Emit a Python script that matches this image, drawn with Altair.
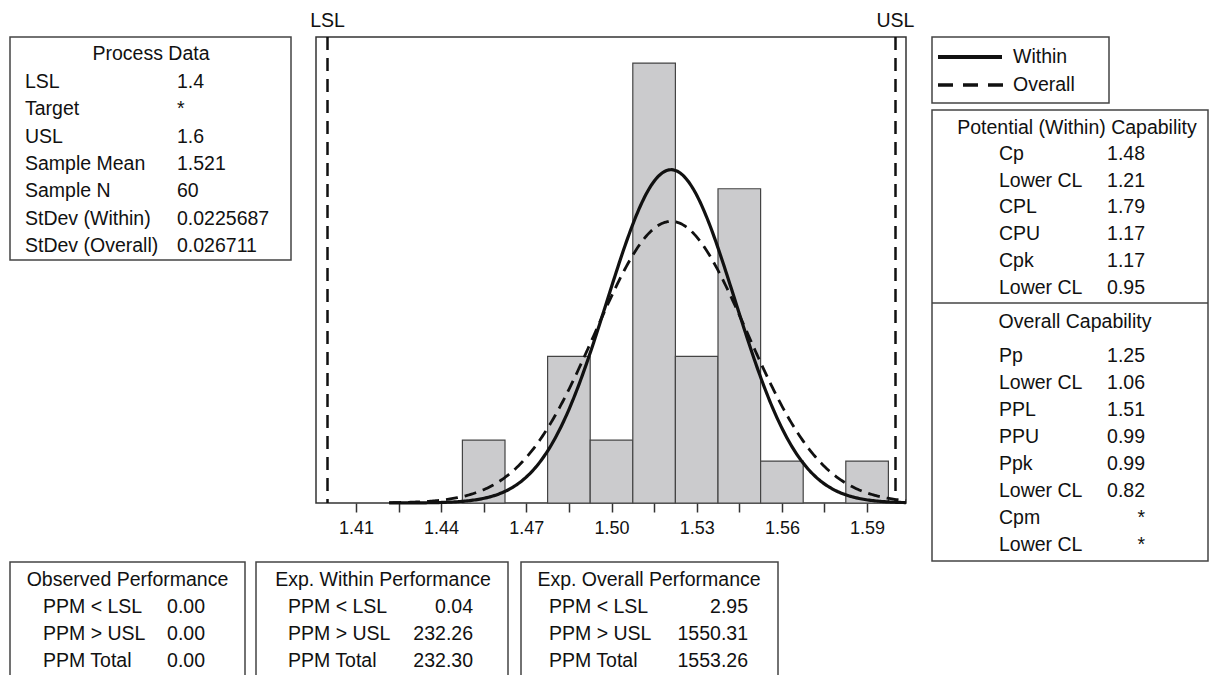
import altair as alt
import pandas as pd

# ---------------------------------------------------------------------------
# Data
# ---------------------------------------------------------------------------
# Histogram of the 60 measurements, bin width 0.015
bin_centers = [1.455, 1.485, 1.500, 1.515, 1.530, 1.545, 1.560, 1.590]
bin_counts = [3, 7, 3, 21, 7, 15, 2, 2]
bin_width = 0.015

# Process statistics
lsl, usl = 1.4, 1.6
sample_mean = 1.521
sample_n = 60
sd_within = 0.0225687
sd_overall = 0.026711

# x-axis ticks (labels on every second tick)
tick_values = [1.41, 1.425, 1.44, 1.455, 1.47, 1.485, 1.50,
               1.515, 1.53, 1.545, 1.56, 1.575, 1.59]

# Summary tables
process_labels = ["LSL", "Target", "USL", "Sample Mean", "Sample N",
                  "StDev (Within)", "StDev (Overall)"]
process_values = ["1.4", "*", "1.6", "1.521", "60", "0.0225687", "0.026711"]

within_cap_labels = ["Cp", "Lower CL", "CPL", "CPU", "Cpk", "Lower CL"]
within_cap_values = ["1.48", "1.21", "1.79", "1.17", "1.17", "0.95"]

overall_cap_labels = ["Pp", "Lower CL", "PPL", "PPU", "Ppk", "Lower CL",
                      "Cpm", "Lower CL"]
overall_cap_values = ["1.25", "1.06", "1.51", "0.99", "0.99", "0.82", "*", "*"]

ppm_labels = ["PPM < LSL", "PPM > USL", "PPM Total"]
observed_ppm = ["0.00", "0.00", "0.00"]
exp_within_ppm = ["0.04", "232.26", "232.30"]
exp_overall_ppm = ["2.95", "1550.31", "1553.26"]

# ---------------------------------------------------------------------------
# Layout (page pixels)
# ---------------------------------------------------------------------------
PAGE_W, PAGE_H = 1210, 675
PLOT_L, PLOT_T, PLOT_R, PLOT_B = 316, 37, 906, 503
PLOT_W, PLOT_H = PLOT_R - PLOT_L, PLOT_B - PLOT_T

PX_PER_UNIT = 2840.0          # horizontal pixels per measurement unit
LSL_PX = 327.5
x_lo = lsl - (LSL_PX - PLOT_L) / PX_PER_UNIT
x_hi = lsl + (PLOT_R - LSL_PX) / PX_PER_UNIT
PX_PER_COUNT = 20.95
y_hi = PLOT_H / PX_PER_COUNT

FONT = "Liberation Sans"
FS = 19.5
INK = "#111111"
EDGE = "#444444"

xs = alt.Scale(domain=[x_lo, x_hi], nice=False, zero=False)
ys = alt.Scale(domain=[0, y_hi], nice=False, zero=True)

# ---------------------------------------------------------------------------
# Table boxes and texts, positioned in page pixels (relative to plot origin)
# ---------------------------------------------------------------------------
texts, boxes = [], []


def add_text(x, y, s, align):
    texts.append(dict(x=x - PLOT_L, y=y - PLOT_T, text=s, align=align))


def add_box(x1, x2, y1, y2):
    boxes.append(dict(x=x1 - PLOT_L, x2=x2 - PLOT_L, y=y1 - PLOT_T, y2=y2 - PLOT_T))


# Process Data
add_box(10, 291, 37, 260)
add_text(151, 54, "Process Data", "center")
for i, (lab, val) in enumerate(zip(process_labels, process_values)):
    add_text(25, 82 + 27.3 * i, lab, "left")
    add_text(177, 82 + 27.3 * i, val, "left")

# Legend box
add_box(932, 1109, 37, 103)
add_text(1013, 57, "Within", "left")
add_text(1013, 85, "Overall", "left")

# Capability box
add_box(932, 1208, 110, 561)
add_text(1077, 128, "Potential (Within) Capability", "center")
for i, (lab, val) in enumerate(zip(within_cap_labels, within_cap_values)):
    add_text(999, 154 + 26.7 * i, lab, "left")
    add_text(1145, 154 + 26.7 * i, val, "right")
add_text(1075, 322, "Overall Capability", "center")
for i, (lab, val) in enumerate(zip(overall_cap_labels, overall_cap_values)):
    add_text(999, 356 + 27.0 * i, lab, "left")
    add_text(1145, 356 + 27.0 * i, val, "right")

# Performance boxes along the bottom
perf_boxes = [
    ("Observed Performance", observed_ppm, 10, 245, 127.5, 43, 205),
    ("Exp. Within Performance", exp_within_ppm, 256, 508, 383, 288, 473),
    ("Exp. Overall Performance", exp_overall_ppm, 521, 778, 649, 549, 748),
]
for title, vals, bx1, bx2, tx, lx, vx in perf_boxes:
    add_box(bx1, bx2, 562, 700)
    add_text(tx, 580, title, "center")
    for i, (lab, val) in enumerate(zip(ppm_labels, vals)):
        add_text(lx, 607 + 27 * i, lab, "left")
        add_text(vx, 607 + 27 * i, val, "right")

text_df = pd.DataFrame(texts)
box_df = pd.DataFrame(boxes)

pix_x = alt.X("x:Q", scale=None, axis=None)
pix_y = alt.Y("y:Q", scale=None, axis=None)

box_layer = alt.Chart(box_df).mark_rect(
    fill="white", stroke=EDGE, strokeWidth=1.5
).encode(x=pix_x, x2="x2:Q", y=pix_y, y2="y2:Q")

text_layers = [
    alt.Chart(text_df).transform_filter(alt.datum.align == a).mark_text(
        align=a, baseline="middle", font=FONT, fontSize=FS, color=INK
    ).encode(x=pix_x, y=pix_y, text="text:N")
    for a in ("left", "center", "right")
]

# Divider inside capability box, legend line samples
divider = alt.Chart(pd.DataFrame([dict(x=932 - PLOT_L, x2=1208 - PLOT_L, y=303 - PLOT_T)])).mark_rule(
    color=EDGE, strokeWidth=1.5
).encode(x=pix_x, x2="x2:Q", y=pix_y)

legend_solid = alt.Chart(pd.DataFrame([dict(x=938 - PLOT_L, x2=1002 - PLOT_L, y=57 - PLOT_T)])).mark_rule(
    color="#111", strokeWidth=4
).encode(x=pix_x, x2="x2:Q", y=pix_y)

legend_dash = alt.Chart(pd.DataFrame([dict(x=938 - PLOT_L, x2=1003 - PLOT_L, y=85 - PLOT_T)])).mark_rule(
    color="#111", strokeWidth=3.5, strokeDash=[15, 10]
).encode(x=pix_x, x2="x2:Q", y=pix_y)

# ---------------------------------------------------------------------------
# Histogram, fitted normal curves, spec limits
# ---------------------------------------------------------------------------
hist_df = pd.DataFrame({
    "lo": [c - bin_width / 2 for c in bin_centers],
    "hi": [c + bin_width / 2 for c in bin_centers],
    "count": bin_counts,
})

bars = alt.Chart(hist_df).mark_rect(
    fill="#cbcbcd", stroke=EDGE, strokeWidth=1.2
).encode(
    x=alt.X("lo:Q", scale=xs, axis=alt.Axis(
        values=tick_values,
        labelExpr="round(datum.value * 1000) % 30 == 0 ? format(datum.value, '.2f') : ''",
        tickSize=9, tickWidth=1.5, tickColor="#333", domain=False, grid=False,
        labelFont=FONT, labelFontSize=18, labelColor=INK, labelPadding=7,
        labelFlush=False, labelOverlap=False, title=None)),
    x2="hi:Q",
    y=alt.Y("count:Q", scale=ys, axis=None),
    y2=alt.datum(0),
)

scale_k = sample_n * bin_width


def normal_curve(sd, **mark_kw):
    expr = (f"{scale_k} / ({sd} * sqrt(2 * PI)) * "
            f"exp(-0.5 * pow((datum.x - {sample_mean}) / {sd}, 2))")
    return alt.Chart(alt.sequence(1.4217, 1.6040, 0.0005, as_="x")).transform_calculate(
        y=expr
    ).mark_line(**mark_kw).encode(
        x=alt.X("x:Q", scale=xs, axis=None),
        y=alt.Y("y:Q", scale=ys, axis=None),
    )


curve_within = normal_curve(sd_within, color="#111", strokeWidth=3.2)
curve_overall = normal_curve(sd_overall, color="#111", strokeWidth=2.8, strokeDash=[12, 7])

spec_df = pd.DataFrame({"v": [lsl, usl], "name": ["LSL", "USL"]})
spec_lines = alt.Chart(spec_df).mark_rule(
    color="#111", strokeWidth=2.5, strokeDash=[13, 8]
).encode(x=alt.X("v:Q", scale=xs, axis=None))
spec_labels = alt.Chart(spec_df).mark_text(
    font=FONT, fontSize=FS, color=INK, baseline="middle", align="center"
).encode(x=alt.X("v:Q", scale=xs, axis=None), y=alt.value(21 - PLOT_T), text="name:N")

chart = alt.layer(
    box_layer, divider, legend_solid, legend_dash,
    bars, curve_overall, curve_within, spec_lines, spec_labels,
    *text_layers,
).resolve_scale(
    x="independent", y="independent"
).properties(
    width=PLOT_W, height=PLOT_H,
    padding={"left": PLOT_L, "top": PLOT_T, "right": PAGE_W - PLOT_R, "bottom": PAGE_H - PLOT_B},
    autosize="none",
    background="white",
).configure_view(stroke="#333", strokeWidth=1.5)

chart.save("out.html", embed_options={"renderer": "svg", "actions": False})
